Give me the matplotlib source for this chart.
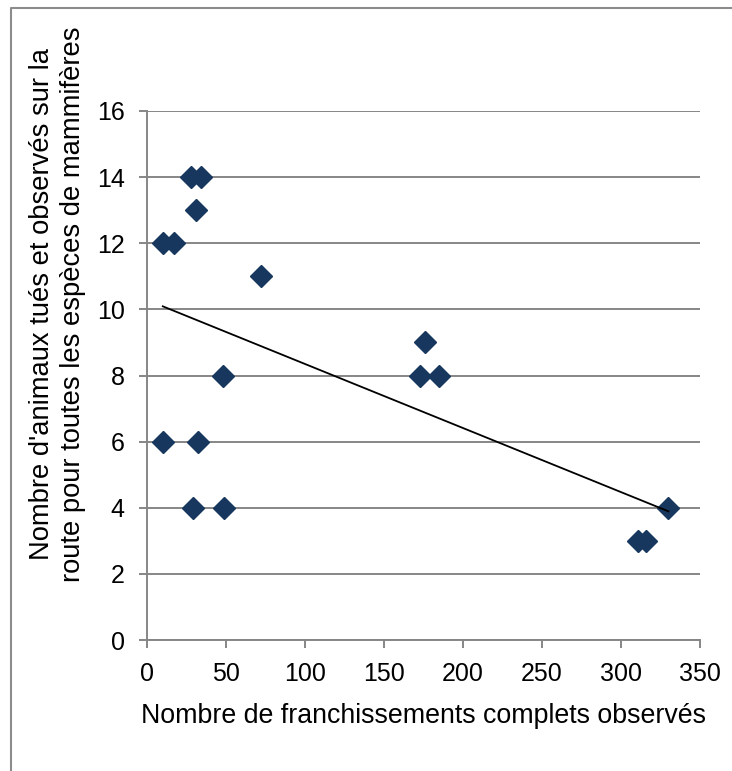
import numpy as np
import matplotlib
matplotlib.use("Agg")
import matplotlib.pyplot as plt
from matplotlib.lines import Line2D

plt.rcParams['font.family'] = ['Liberation Sans', 'DejaVu Sans']

# Observations: complete crossings vs. road-killed animals
crossings = [10, 17, 28, 34, 31, 72, 10, 32, 48, 29, 49, 176, 173, 185, 330, 311, 316]
roadkills = [12, 12, 14, 14, 13, 11, 6, 6, 8, 4, 4, 9, 8, 8, 4, 3, 3]

x_ticks = [0, 50, 100, 150, 200, 250, 300, 350]
y_ticks = [0, 2, 4, 6, 8, 10, 12, 14, 16]

xlabel = "Nombre de franchissements complets observés"
ylabel = "Nombre d'animaux tués et observés sur la\nroute pour toutes les espèces de mammifères"

W, H = 732, 771
fig = plt.figure(figsize=(W / 100, H / 100), dpi=100)
ax = fig.add_axes([147 / W, 1 - 640 / H, (700 - 147) / W, (640 - 111) / H])

grid_col = '#868686'
ax.set_xlim(0, 350)
ax.set_ylim(0, 16)
ax.set_xticks(x_ticks)
ax.set_yticks(y_ticks)
ax.yaxis.grid(True, color=grid_col, linewidth=1.4)
ax.set_axisbelow(True)
for s in ['top', 'right']:
    ax.spines[s].set_visible(False)
for s in ['left', 'bottom']:
    ax.spines[s].set_color(grid_col)
    ax.spines[s].set_linewidth(1.4)
ax.tick_params(axis='both', direction='out', length=6, width=1.4, color=grid_col,
               labelsize=18, labelcolor='black')
ax.tick_params(axis='x', pad=10)
ax.tick_params(axis='y', pad=10)

ax.plot(crossings, roadkills, linestyle='none', marker='D', markersize=11.5,
        color='#17375E', clip_on=False, zorder=3)

# Linear trend line over the observed range
xs = np.array(crossings, dtype=float)
ys = np.array(roadkills, dtype=float)
slope, intercept = np.polyfit(xs, ys, 1)
xt = np.array([xs.min(), xs.max()])
ax.plot(xt, slope * xt + intercept, color='black', linewidth=1.3, zorder=4)

ax.set_xlabel(xlabel, fontsize=19.3, labelpad=12)
ax.set_ylabel(ylabel, fontsize=19.7, linespacing=1.25)
ax.yaxis.set_label_coords((86 - 147) / 553, (640 - 304) / 529)

# Outer chart frame (left and top edges)
fig.add_artist(Line2D([11 / W, 11 / W, 1], [0, 1 - 8 / H, 1 - 8 / H],
                      transform=fig.transFigure, color='#8c8c8c', linewidth=1.5))

fig.savefig('out.png', dpi=100)
